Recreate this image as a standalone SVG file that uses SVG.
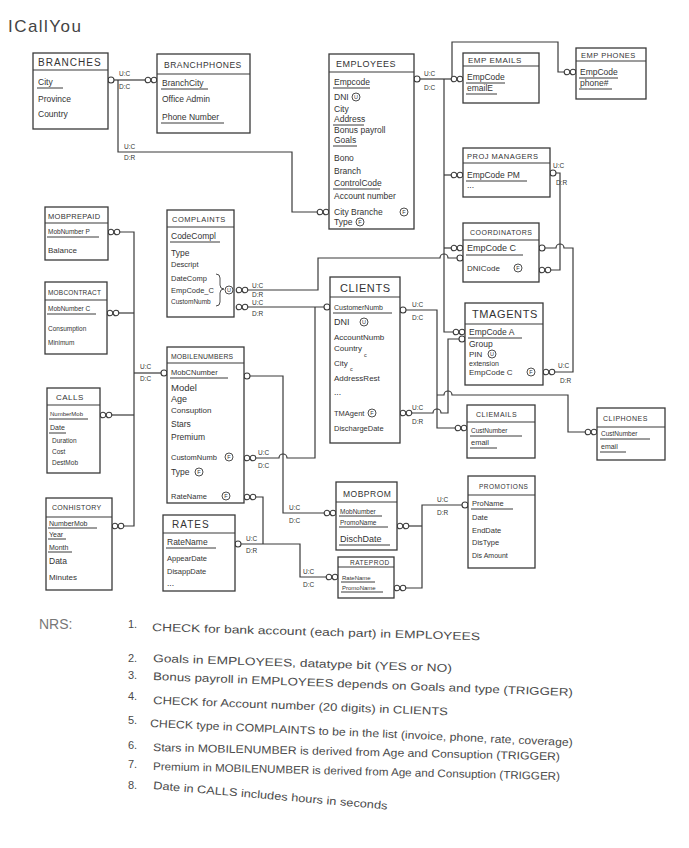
<svg xmlns="http://www.w3.org/2000/svg" xmlns:xlink="http://www.w3.org/1999/xlink" width="689" height="848" viewBox="0 0 689 848">
<style>
text{font-family:"Liberation Sans",Arial,sans-serif;fill:#333}
.b{fill:#fff;stroke:#3a3a3a;stroke-width:1.3}
.sp{stroke:#3a3a3a;stroke-width:1.2}
.u{stroke:#3a3a3a;stroke-width:1}
.l{fill:none;stroke:#3a3a3a;stroke-width:1.2}
.t{font-size:8px;letter-spacing:.5px}
.a{font-size:8.5px}
.c{font-size:6.5px}
.n{font-size:11px;fill:#4a4a4a}
.mk{fill:#fff;stroke:#3a3a3a;stroke-width:1.1}
</style>
<defs>
<g id="oo" class="mk"><circle cx="-3" cy="0" r="2.8"/><circle cx="3" cy="0" r="2.8"/></g>
<circle id="o" class="mk" r="3"/>
<g id="cU"><circle r="4" fill="none" stroke="#3a3a3a" stroke-width="0.9"/><text x="0" y="2.2" text-anchor="middle" style="font-size:5.5px">U</text></g>
<g id="cF"><circle r="4" fill="none" stroke="#3a3a3a" stroke-width="0.9"/><text x="0" y="2.2" text-anchor="middle" style="font-size:5.5px">F</text></g>
</defs>
<rect width="689" height="848" fill="#fff"/>
<text x="8" y="32" style="font-size:17px;fill:#444" textLength="73">ICallYou</text>

<g id="connectors" class="l">
<path d="M114,80 H145"/>
<path d="M118,80 V152 H292 V212 H317"/>
<path d="M420,79 H451"/>
<path d="M452,79 V42 H558 V72 H564"/>
<path d="M444,79 V332 H453"/>
<path d="M444,175 H451"/>
<path d="M444,248 H451"/>
<path d="M556,173 H560 V270 H551"/>
<path d="M545,248 H556 A4,4 0 0 1 564,248 H573 V372 H555"/>
<path d="M248,290 H318 V258 H440 A4,4 0 0 1 448,258 H457"/>
<path d="M248,307 H324"/>
<path d="M256,458 H279 A4,4 0 0 1 287,458 H315 V307"/>
<path d="M250,376 H283 V513 H324"/>
<path d="M256,497 H263 V544"/>
<path d="M241,544 H300 V577 H326"/>
<path d="M409,526 H422"/>
<path d="M406,588 H422 V505 H462"/>
<path d="M120,232 H134 V526 H124"/>
<path d="M119,313 H134"/>
<path d="M112,415 H134"/>
<path d="M134,373 H161"/>
<path d="M406,310 H437 V428 H455"/>
<path d="M437,395 H444 A4,4 0 0 1 452,395 H568 V432 H585"/>
<path d="M412,413 H433 A4,4 0 0 1 441,413 H448 V339 H459"/>
</g>
<g id="ends">
<use xlink:href="#o" href="#o" x="111" y="80"/>
<use xlink:href="#oo" href="#oo" x="151" y="80"/>
<use xlink:href="#oo" href="#oo" x="323" y="212"/>
<use xlink:href="#o" href="#o" x="417" y="79"/>
<use xlink:href="#oo" href="#oo" x="457" y="79"/>
<use xlink:href="#oo" href="#oo" x="570" y="72"/>
<use xlink:href="#oo" href="#oo" x="459" y="332"/>
<use xlink:href="#oo" href="#oo" x="457" y="175"/>
<use xlink:href="#oo" href="#oo" x="457" y="248"/>
<use xlink:href="#o" href="#o" x="553" y="173"/>
<use xlink:href="#oo" href="#oo" x="545" y="270"/>
<use xlink:href="#o" href="#o" x="542" y="248"/>
<use xlink:href="#oo" href="#oo" x="549" y="372"/>
<use xlink:href="#oo" href="#oo" x="242" y="290"/>
<use xlink:href="#o" href="#o" x="460" y="258"/>
<use xlink:href="#oo" href="#oo" x="242" y="307"/>
<use xlink:href="#o" href="#o" x="327" y="307"/>
<use xlink:href="#oo" href="#oo" x="250" y="458"/>
<use xlink:href="#o" href="#o" x="247" y="376"/>
<use xlink:href="#oo" href="#oo" x="330" y="513"/>
<use xlink:href="#oo" href="#oo" x="250" y="497"/>
<use xlink:href="#o" href="#o" x="238" y="544"/>
<use xlink:href="#oo" href="#oo" x="332" y="577"/>
<use xlink:href="#oo" href="#oo" x="403" y="526"/>
<use xlink:href="#oo" href="#oo" x="400" y="588"/>
<use xlink:href="#o" href="#o" x="465" y="505"/>
<use xlink:href="#oo" href="#oo" x="114" y="232"/>
<use xlink:href="#oo" href="#oo" x="113" y="313"/>
<use xlink:href="#oo" href="#oo" x="106" y="415"/>
<use xlink:href="#oo" href="#oo" x="118" y="526"/>
<use xlink:href="#o" href="#o" x="164" y="373"/>
<use xlink:href="#o" href="#o" x="403" y="310"/>
<use xlink:href="#oo" href="#oo" x="461" y="428"/>
<use xlink:href="#oo" href="#oo" x="591" y="432"/>
<use xlink:href="#oo" href="#oo" x="406" y="413"/>
<use xlink:href="#o" href="#o" x="462" y="339"/>
</g>
<g id="labels" class="c">
<text class="c" x="119" y="76">U:C</text><text class="c" x="119" y="89">D:C</text>
<text class="c" x="124" y="149">U:C</text><text class="c" x="124" y="160">D:R</text>
<text class="c" x="424" y="76">U:C</text><text class="c" x="424" y="90">D:C</text>
<text class="c" x="553" y="168">U:C</text><text class="c" x="556" y="185">D:R</text>
<text class="c" x="558" y="368">U:C</text><text class="c" x="560" y="383">D:R</text>
<text class="c" x="252" y="288">U:C</text><text class="c" x="252" y="297">D:R</text>
<text class="c" x="252" y="305">U:C</text><text class="c" x="252" y="316">D:R</text>
<text class="c" x="258" y="455">U:C</text><text class="c" x="258" y="468">D:C</text>
<text class="c" x="289" y="510">U:C</text><text class="c" x="289" y="523">D:C</text>
<text class="c" x="246" y="541">U:C</text><text class="c" x="246" y="553">D:R</text>
<text class="c" x="303" y="574">U:C</text><text class="c" x="303" y="587">D:C</text>
<text class="c" x="437" y="502">U:C</text><text class="c" x="437" y="515">D:R</text>
<text class="c" x="140" y="369">U:C</text><text class="c" x="140" y="381">D:C</text>
<text class="c" x="412" y="307">U:C</text><text class="c" x="412" y="320">D:C</text>
<text class="c" x="412" y="410">U:C</text><text class="c" x="412" y="424">D:R</text>
</g>

<g id="branches">
<rect class="b" x="33" y="53" width="75" height="76"/>
<line class="sp" x1="33" y1="70" x2="108" y2="70"/>
<text class="t" x="38" y="66" style="font-size:10px;letter-spacing:1px">BRANCHES</text>
<text class="a" x="38" y="85">City</text><line class="u" x1="37" y1="88" x2="63" y2="88"/>
<text class="a" x="38" y="102">Province</text>
<text class="a" x="38" y="117">Country</text>
</g>

<g id="branchphones">
<rect class="b" x="157" y="54" width="93" height="79"/>
<line class="sp" x1="157" y1="74" x2="250" y2="74"/>
<text class="t" x="164" y="68" style="font-size:8.5px">BRANCHPHONES</text>
<text class="a" x="162" y="86">BranchCity</text><line class="u" x1="161" y1="89" x2="208" y2="89"/>
<text class="a" x="162" y="102">Office Admin</text>
<text class="a" x="162" y="120">Phone Number</text><line class="u" x1="161" y1="123" x2="224" y2="123"/>
</g>

<g id="employees">
<rect class="b" x="329" y="54" width="85" height="175"/>
<line class="sp" x1="329" y1="72" x2="414" y2="72"/>
<text class="t" x="336" y="67" style="font-size:9px">EMPLOYEES</text>
<text class="a" x="334" y="85">Empcode</text><line class="u" x1="333" y1="88" x2="370" y2="88"/>
<text class="a" x="334" y="100">DNI</text><use xlink:href="#cU" href="#cU" x="356" y="97"/>
<text class="a" x="334" y="112">City</text>
<text class="a" x="334" y="122">Address</text><line class="u" x1="333" y1="125" x2="364" y2="125"/>
<text class="a" x="334" y="133">Bonus payroll</text>
<text class="a" x="334" y="143">Goals</text><line class="u" x1="333" y1="146" x2="357" y2="146"/>
<text class="a" x="334" y="161">Bono</text>
<text class="a" x="334" y="174">Branch</text>
<text class="a" x="334" y="186">ControlCode</text><line class="u" x1="333" y1="189" x2="380" y2="189"/>
<text class="a" x="334" y="199">Account number</text>
<text class="a" x="334" y="215">City Branche</text><use xlink:href="#cF" href="#cF" x="404" y="212"/>
<text class="a" x="334" y="225">Type</text><use xlink:href="#cF" href="#cF" x="360" y="222"/>
</g>

<g id="empemails">
<rect class="b" x="463" y="53" width="76" height="50"/>
<line class="sp" x1="463" y1="66" x2="539" y2="66"/>
<text class="t" x="468" y="63">EMP EMAILS</text>
<text class="a" x="467" y="80">EmpCode</text><line class="u" x1="466" y1="83" x2="505" y2="83"/>
<text class="a" x="467" y="91">emailE</text><line class="u" x1="466" y1="94" x2="497" y2="94"/>
</g>

<g id="empphones">
<rect class="b" x="576" y="48" width="70" height="51"/>
<line class="sp" x1="576" y1="61" x2="646" y2="61"/>
<text class="t" x="581" y="58" style="font-size:7.5px">EMP PHONES</text>
<text class="a" x="580" y="75">EmpCode</text><line class="u" x1="579" y1="78" x2="618" y2="78"/>
<text class="a" x="580" y="86">phone#</text><line class="u" x1="579" y1="89" x2="612" y2="89"/>
</g>

<g id="projmanagers">
<rect class="b" x="463" y="148" width="87" height="49"/>
<line class="sp" x1="463" y1="163" x2="550" y2="163"/>
<text class="t" x="467" y="159" style="font-size:7.5px">PROJ MANAGERS</text>
<text class="a" x="467" y="178">EmpCode PM</text><line class="u" x1="466" y1="181" x2="527" y2="181"/>
<text class="a" x="467" y="188">...</text>
</g>

<g id="coordinators">
<rect class="b" x="463" y="223" width="76" height="59"/>
<line class="sp" x1="463" y1="240" x2="539" y2="240"/>
<text class="t" x="470" y="235" style="font-size:7px">COORDINATORS</text>
<text class="a" x="467" y="251" style="font-size:9px">EmpCode C</text><line class="u" x1="466" y1="255" x2="523" y2="255"/>
<text class="a" x="467" y="271" style="font-size:8px">DNICode</text><use xlink:href="#cF" href="#cF" x="518" y="268"/>
</g>

<g id="tmagents">
<rect class="b" x="465" y="303" width="78" height="82"/>
<line class="sp" x1="465" y1="324" x2="543" y2="324"/>
<text class="t" x="472" y="318" style="font-size:11px;letter-spacing:.6px">TMAGENTS</text>
<text class="a" x="469" y="335">EmpCode A</text><line class="u" x1="468" y1="338" x2="522" y2="338"/>
<text class="a" x="469" y="347">Group</text>
<text class="a" x="469" y="357" style="font-size:8px">PIN</text><use xlink:href="#cU" href="#cU" x="492" y="354"/>
<text class="a" x="469" y="366" style="font-size:7px">extension</text>
<text class="a" x="469" y="375" style="font-size:8px">EmpCode C</text><use xlink:href="#cF" href="#cF" x="531" y="372"/>
</g>

<g id="clients">
<rect class="b" x="330" y="277" width="70" height="166"/>
<line class="sp" x1="330" y1="297" x2="400" y2="297"/>
<text class="t" x="340" y="292" style="font-size:11px;letter-spacing:.6px">CLIENTS</text>
<text class="a" x="334" y="310" style="font-size:7px">CustomerNumb</text><line class="u" x1="333" y1="313" x2="392" y2="313"/>
<text class="a" x="334" y="325" style="font-size:9px">DNI</text><use xlink:href="#cU" href="#cU" x="364" y="322"/>
<text class="a" x="334" y="340" style="font-size:8px">AccountNumb</text>
<text class="a" x="334" y="351" style="font-size:8px">Country</text><text class="c" x="364" y="357" style="font-size:5.5px">c</text>
<text class="a" x="334" y="366" style="font-size:8px">City</text><text class="c" x="350" y="371" style="font-size:5.5px">c</text>
<text class="a" x="334" y="381" style="font-size:8px">AddressRest</text>
<text class="a" x="334" y="395">...</text>
<text class="a" x="334" y="416" style="font-size:7.5px">TMAgent</text><use xlink:href="#cF" href="#cF" x="372" y="413"/>
<text class="a" x="334" y="431" style="font-size:7.5px">DischargeDate</text>
</g>

<g id="complaints">
<rect class="b" x="167" y="210" width="67" height="107"/>
<line class="sp" x1="167" y1="227" x2="234" y2="227"/>
<text class="t" x="172" y="222" style="font-size:7.5px">COMPLAINTS</text>
<text class="a" x="171" y="239">CodeCompl</text><line class="u" x1="170" y1="242" x2="220" y2="242"/>
<text class="a" x="171" y="256">Type</text>
<text class="a" x="171" y="267" style="font-size:7.5px">Descript</text>
<text class="a" x="171" y="281" style="font-size:7.5px">DateComp</text>
<text class="a" x="171" y="293" style="font-size:7.5px">EmpCode_C</text>
<text class="a" x="171" y="304" style="font-size:6.5px">CustomNumb</text>
<path class="l" d="M216,274 q4,0 4,4 v7 q0,4 4,4 q-4,0 -4,4 v9 q0,4 -4,4" style="stroke-width:0.9"/>
<use xlink:href="#cU" href="#cU" x="229" y="290"/>
</g>

<g id="mobprepaid">
<rect class="b" x="45" y="207" width="63" height="53"/>
<line class="sp" x1="45" y1="223" x2="108" y2="223"/>
<text class="t" x="48" y="219" style="font-size:7.5px;letter-spacing:.3px">MOBPREPAID</text>
<text class="a" x="48" y="234" style="font-size:6.5px">MobNumber P</text><line class="u" x1="47" y1="237" x2="99" y2="237"/>
<text class="a" x="48" y="253" style="font-size:8px">Balance</text>
</g>

<g id="mobcontract">
<rect class="b" x="45" y="282" width="62" height="72"/>
<line class="sp" x1="45" y1="300" x2="107" y2="300"/>
<text class="t" x="48" y="295" style="font-size:6.5px;letter-spacing:.2px">MOBCONTRACT</text>
<text class="a" x="48" y="311" style="font-size:6.5px">MobNumber C</text><line class="u" x1="47" y1="314" x2="96" y2="314"/>
<text class="a" x="48" y="331" style="font-size:6.5px">Consumption</text>
<text class="a" x="48" y="345" style="font-size:6.5px">Minimum</text>
</g>

<g id="calls">
<rect class="b" x="47" y="388" width="53" height="85"/>
<line class="sp" x1="47" y1="405" x2="100" y2="405"/>
<text class="t" x="56" y="400">CALLS</text>
<text class="a" x="50" y="416" style="font-size:6px">NumberMob</text><line class="u" x1="49" y1="419" x2="88" y2="419"/>
<text class="a" x="50" y="430" style="font-size:7px">Date</text><line class="u" x1="49" y1="433" x2="66" y2="433"/>
<text class="a" x="52" y="443" style="font-size:6.5px">Duration</text>
<text class="a" x="52" y="454" style="font-size:6.5px">Cost</text>
<text class="a" x="52" y="465" style="font-size:6.5px">DestMob</text>
</g>

<g id="conhistory">
<rect class="b" x="46" y="498" width="66" height="92"/>
<line class="sp" x1="46" y1="517" x2="112" y2="517"/>
<text class="t" x="52" y="510" style="font-size:7px;letter-spacing:.3px">CONHISTORY</text>
<text class="a" x="49" y="526" style="font-size:7px">NumberMob</text><line class="u" x1="48" y1="528" x2="97" y2="528"/>
<text class="a" x="49" y="537" style="font-size:7px">Year</text><line class="u" x1="48" y1="539" x2="66" y2="539"/>
<text class="a" x="49" y="550" style="font-size:7px">Month</text><line class="u" x1="48" y1="552" x2="72" y2="552"/>
<text class="a" x="49" y="564">Data</text>
<text class="a" x="49" y="580" style="font-size:8px">Minutes</text>
</g>

<g id="mobilenumbers">
<rect class="b" x="167" y="347" width="77" height="156"/>
<line class="sp" x1="167" y1="363" x2="244" y2="363"/>
<text class="t" x="171" y="359" style="font-size:6.8px;letter-spacing:.2px">MOBILENUMBERS</text>
<text class="a" x="171" y="375" style="font-size:7.5px">MobCNumber</text><line class="u" x1="170" y1="378" x2="228" y2="378"/>
<text class="a" x="171" y="391" style="font-size:9.5px">Model</text>
<text class="a" x="171" y="402" style="font-size:9px">Age</text>
<text class="a" x="171" y="413" style="font-size:8px">Consuption</text>
<text class="a" x="171" y="427">Stars</text>
<text class="a" x="171" y="440">Premium</text>
<text class="a" x="171" y="460" style="font-size:7.5px">CustomNumb</text><use xlink:href="#cF" href="#cF" x="229" y="457"/>
<text class="a" x="171" y="475">Type</text><use xlink:href="#cF" href="#cF" x="199" y="472"/>
<text class="a" x="171" y="499" style="font-size:7.5px">RateName</text><use xlink:href="#cF" href="#cF" x="226" y="496"/>
</g>

<g id="rates">
<rect class="b" x="163" y="515" width="72" height="76"/>
<line class="sp" x1="163" y1="533" x2="235" y2="533"/>
<text class="t" x="172" y="528" style="font-size:10px;letter-spacing:1px">RATES</text>
<text class="a" x="167" y="545">RateName</text><line class="u" x1="166" y1="548" x2="216" y2="548"/>
<text class="a" x="167" y="561" style="font-size:7.5px">AppearDate</text>
<text class="a" x="167" y="574" style="font-size:7.5px">DisappDate</text>
<text class="a" x="167" y="586">...</text>
</g>

<g id="mobprom">
<rect class="b" x="336" y="482" width="61" height="68"/>
<line class="sp" x1="336" y1="502" x2="397" y2="502"/>
<text class="t" x="343" y="497" style="font-size:8.5px">MOBPROM</text>
<text class="a" x="340" y="514" style="font-size:6.5px">MobNumber</text><line class="u" x1="339" y1="516" x2="382" y2="516"/>
<text class="a" x="340" y="525" style="font-size:6.5px">PromoName</text><line class="u" x1="339" y1="527" x2="388" y2="527"/>
<text class="a" x="340" y="542" style="font-size:9px">DischDate</text><line class="u" x1="339" y1="545" x2="390" y2="545"/>
</g>

<g id="rateprod">
<rect class="b" x="338" y="557" width="56" height="41"/>
<line class="sp" x1="338" y1="567" x2="394" y2="567"/>
<text class="t" x="350" y="565" style="font-size:6.5px">RATEPROD</text>
<text class="a" x="342" y="580" style="font-size:6px">RateName</text><line class="u" x1="341" y1="582" x2="375" y2="582"/>
<text class="a" x="342" y="590" style="font-size:6px">PromoName</text><line class="u" x1="341" y1="592" x2="383" y2="592"/>
</g>

<g id="promotions">
<rect class="b" x="468" y="476" width="67" height="92"/>
<line class="sp" x1="468" y1="495" x2="535" y2="495"/>
<text class="t" x="479" y="489" style="font-size:6.5px">PROMOTIONS</text>
<text class="a" x="472" y="506" style="font-size:7.5px">ProName</text><line class="u" x1="471" y1="509" x2="513" y2="509"/>
<text class="a" x="472" y="520" style="font-size:7.5px">Date</text>
<text class="a" x="472" y="533" style="font-size:7.5px">EndDate</text>
<text class="a" x="472" y="545" style="font-size:7.5px">DisType</text>
<text class="a" x="472" y="558" style="font-size:7px">Dis Amount</text>
</g>

<g id="cliemails">
<rect class="b" x="467" y="405" width="68" height="53"/>
<line class="sp" x1="467" y1="422" x2="535" y2="422"/>
<text class="t" x="476" y="417" style="font-size:7px">CLIEMAILS</text>
<text class="a" x="471" y="433" style="font-size:6.5px">CustNumber</text><line class="u" x1="470" y1="436" x2="522" y2="436"/>
<text class="a" x="471" y="445" style="font-size:7.5px">email</text><line class="u" x1="470" y1="448" x2="497" y2="448"/>
</g>

<g id="cliphones">
<rect class="b" x="597" y="408" width="68" height="52"/>
<line class="sp" x1="597" y1="427" x2="665" y2="427"/>
<text class="t" x="603" y="421" style="font-size:7px">CLIPHONES</text>
<text class="a" x="601" y="436" style="font-size:6.5px">CustNumber</text><line class="u" x1="600" y1="439" x2="650" y2="439"/>
<text class="a" x="601" y="449" style="font-size:7px">email</text><line class="u" x1="600" y1="452" x2="626" y2="452"/>
</g>

<g id="notes">
<text x="39" y="629" style="font-size:14px;fill:#777">NRS:</text>
<text class="n" x="128" y="628">1.</text>
<text class="n" x="152" y="631" textLength="328" lengthAdjust="spacingAndGlyphs" transform="rotate(1.6 152 631)">CHECK for bank account (each part) in EMPLOYEES</text>
<text class="n" x="128" y="662">2.</text>
<text class="n" x="153" y="662" textLength="299" lengthAdjust="spacingAndGlyphs" transform="rotate(1.9 153 662)">Goals in EMPLOYEES, datatype bit (YES or NO)</text>
<text class="n" x="128" y="679">3.</text>
<text class="n" x="153" y="680" textLength="420" lengthAdjust="spacingAndGlyphs" transform="rotate(2.2 153 680)">Bonus payroll in EMPLOYEES depends on Goals and type (TRIGGER)</text>
<text class="n" x="128" y="700">4.</text>
<text class="n" x="153" y="704" textLength="295" lengthAdjust="spacingAndGlyphs" transform="rotate(2.2 153 704)">CHECK for Account number (20 digits) in CLIENTS</text>
<text class="n" x="128" y="724">5.</text>
<text class="n" x="150" y="727" textLength="423" lengthAdjust="spacingAndGlyphs" transform="rotate(2.6 150 727)">CHECK type in COMPLAINTS to be in the list (invoice, phone, rate, coverage)</text>
<text class="n" x="128" y="749">6.</text>
<text class="n" x="153" y="751" textLength="407" lengthAdjust="spacingAndGlyphs" transform="rotate(1.3 153 751)">Stars in MOBILENUMBER is derived from Age and Consuption (TRIGGER)</text>
<text class="n" x="128" y="768">7.</text>
<text class="n" x="153" y="770" textLength="407" lengthAdjust="spacingAndGlyphs" transform="rotate(1.4 153 770)">Premium in MOBILENUMBER is derived from Age and Consuption (TRIGGER)</text>
<text class="n" x="128" y="789">8.</text>
<text class="n" x="153" y="789" textLength="235" lengthAdjust="spacingAndGlyphs" transform="rotate(5 153 789)">Date in CALLS includes hours in seconds</text>
</g>
</svg>
